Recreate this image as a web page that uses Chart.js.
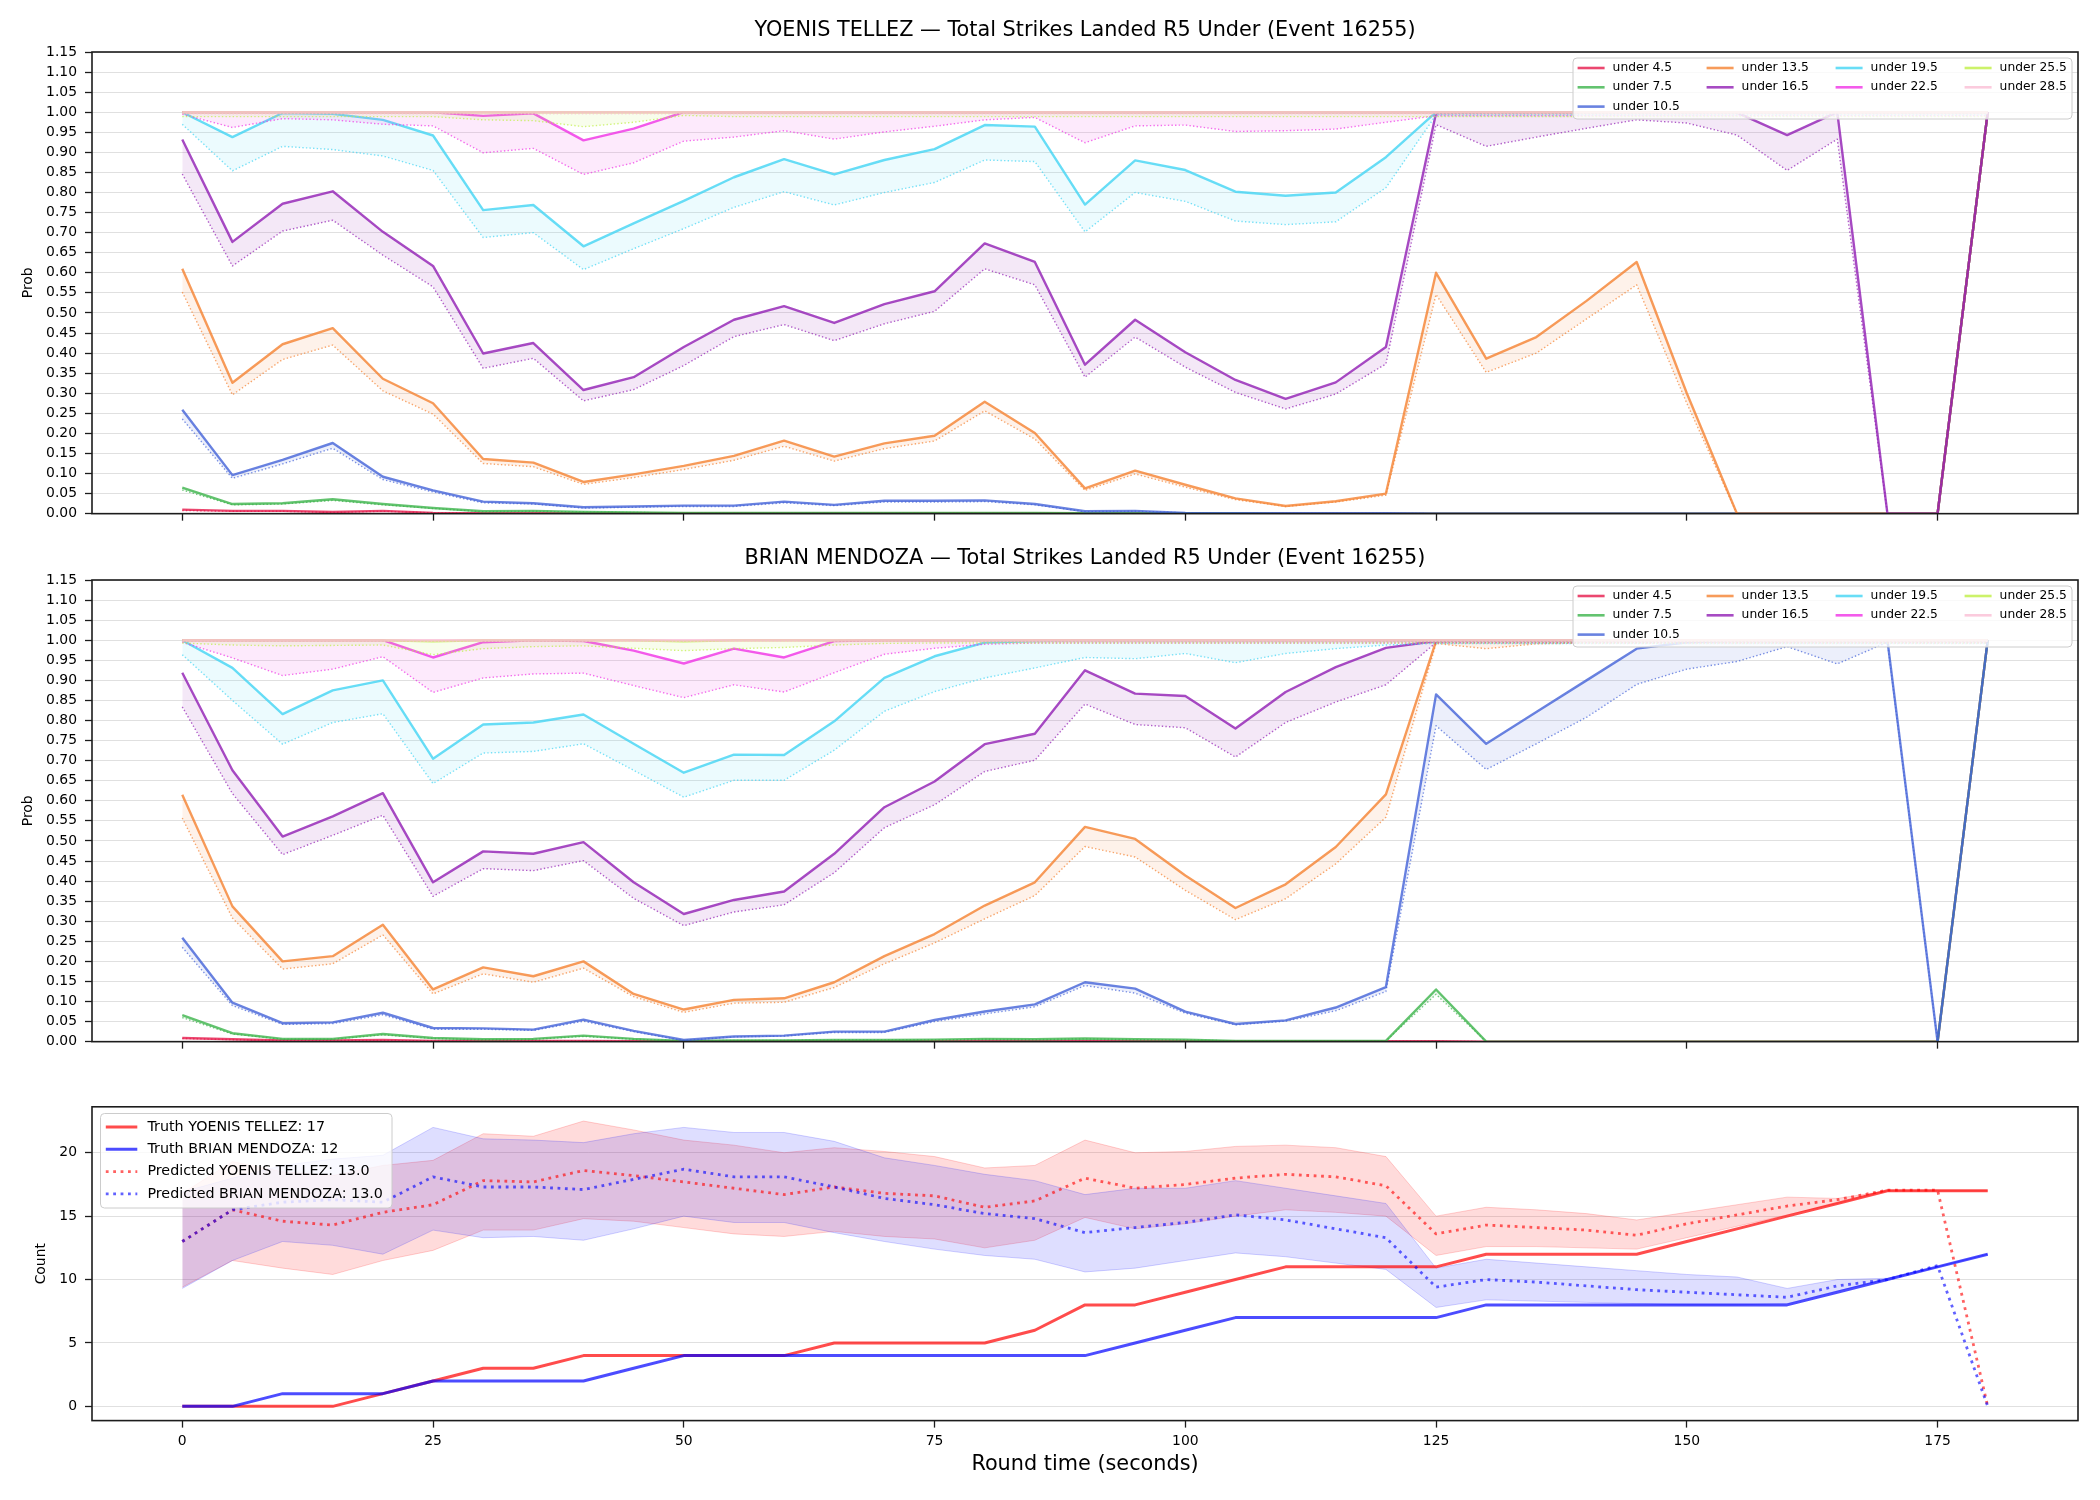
<!DOCTYPE html>
<html>
<head>
<meta charset="utf-8">
<script src="https://cdn.jsdelivr.net/npm/chart.js@4.4.0/dist/chart.umd.min.js"></script>
<style>
  html, body { margin: 0; padding: 0; background: #fff; }
  #wrap { position: relative; width: 2100px; height: 1500px; }
  canvas { position: absolute; left: 0; display: block; }
</style>
</head>
<body>
<div id="wrap">
  <canvas id="c1" width="2100" height="530" style="top:0"></canvas>
  <canvas id="c2" width="2100" height="530" style="top:528px"></canvas>
  <canvas id="c3" width="2100" height="442" style="top:1058px"></canvas>
</div>
<script>
const times = [0, 5, 10, 15, 20, 25, 30, 35, 40, 45, 50, 55, 60, 65, 70, 75, 80, 85, 90, 95,
  100, 105, 110, 115, 120, 125, 130, 135, 140, 145, 150, 155, 160, 165, 170, 175, 180];
const xTicks = [0, 25, 50, 75, 100, 125, 150, 175];
const probTicks = [0, 0.05, 0.1, 0.15, 0.2, 0.25, 0.3, 0.35, 0.4, 0.45, 0.5, 0.55, 0.6,
  0.65, 0.7, 0.75, 0.8, 0.85, 0.9, 0.95, 1.0, 1.05, 1.1, 1.15];
const countTicks = [0, 5, 10, 15, 20];

const lineNames = ["under 4.5", "under 7.5", "under 10.5", "under 13.5", "under 16.5",
  "under 19.5", "under 22.5", "under 25.5", "under 28.5"];
const lineColors = ["#e6194b", "#3cb44b", "#4363d8", "#f58231", "#911eb4",
  "#42d4f4", "#f032e6", "#bfef45", "#fabed4"];

// ---- YOENIS TELLEZ: solid = line, _lo = dotted lower edge ----
const t_u4_5 = [0.010, 0.007, 0.007, 0.004, 0.007, 0.002, 0.001, 0.001, 0.001, 0.001,
  0.001, 0.001, 0.001, 0.001, 0.001, 0.001, 0.001, 0.001, 0.001, 0.001,
  0, 0, 0, 0, 0, 0, 0, 0, 0, 0, 0, 0, 0, 0, 0, 0, 1];
const t_u4_5_lo = [0.008, 0.006, 0.006, 0.003, 0.006, 0.002, 0.001, 0.001, 0.001, 0.001,
  0.001, 0.001, 0.001, 0.001, 0.001, 0.001, 0.001, 0.001, 0, 0,
  0, 0, 0, 0, 0, 0, 0, 0, 0, 0, 0, 0, 0, 0, 0, 0, 1];
const t_u7_5 = [0.065, 0.024, 0.026, 0.036, 0.024, 0.014, 0.006, 0.007, 0.004, 0.003,
  0.002, 0.002, 0.002, 0.002, 0.002, 0.002, 0.002, 0.002, 0.001, 0.001,
  0.001, 0.001, 0, 0, 0, 0, 0, 0, 0, 0, 0, 0, 0, 0, 0, 0, 1];
const t_u7_5_lo = [0.059, 0.022, 0.024, 0.033, 0.022, 0.013, 0.005, 0.006, 0.004, 0.003,
  0.002, 0.002, 0.002, 0.002, 0.002, 0.002, 0.002, 0.002, 0.001, 0.001,
  0.001, 0.001, 0, 0, 0, 0, 0, 0, 0, 0, 0, 0, 0, 0, 0, 0, 1];
const t_u10_5 = [0.259, 0.096, 0.134, 0.176, 0.092, 0.058, 0.030, 0.026, 0.016, 0.018,
  0.020, 0.020, 0.030, 0.022, 0.032, 0.032, 0.033, 0.024, 0.006, 0.007,
  0.002, 0.001, 0.001, 0.001, 0.001, 0, 0, 0, 0, 0, 0, 0, 0, 0, 0, 0, 1];
const t_u10_5_lo = [0.236, 0.088, 0.124, 0.163, 0.085, 0.054, 0.027, 0.024, 0.014, 0.016,
  0.018, 0.018, 0.027, 0.020, 0.029, 0.029, 0.030, 0.022, 0.005, 0.006,
  0.002, 0.001, 0.001, 0.001, 0.001, 0, 0, 0, 0, 0, 0, 0, 0, 0, 0, 0, 1];
const t_u13_5 = [0.610, 0.326, 0.422, 0.462, 0.336, 0.275, 0.136, 0.127, 0.079, 0.098,
  0.119, 0.144, 0.182, 0.142, 0.175, 0.194, 0.279, 0.201, 0.063, 0.107,
  0.072, 0.038, 0.019, 0.031, 0.050, 0.600, 0.386, 0.440, 0.530, 0.627,
  0.300, 0, 0, 0, 0, 0, 1];
const t_u13_5_lo = [0.552, 0.296, 0.384, 0.420, 0.306, 0.248, 0.125, 0.117, 0.073, 0.090,
  0.110, 0.133, 0.168, 0.131, 0.162, 0.181, 0.256, 0.186, 0.058, 0.099,
  0.066, 0.035, 0.018, 0.029, 0.046, 0.546, 0.352, 0.400, 0.485, 0.570,
  0.275, 0, 0, 0, 0, 0, 1];
const t_u16_5 = [0.932, 0.677, 0.772, 0.803, 0.702, 0.617, 0.399, 0.425, 0.308, 0.340,
  0.415, 0.483, 0.517, 0.475, 0.522, 0.554, 0.673, 0.627, 0.371, 0.483,
  0.402, 0.333, 0.286, 0.327, 0.415, 0.998, 0.999, 1.0, 1.0, 1.0,
  1.0, 0.999, 0.943, 1.0, 0, 0, 1];
const t_u16_5_lo = [0.846, 0.617, 0.704, 0.731, 0.644, 0.565, 0.362, 0.387, 0.281, 0.309,
  0.369, 0.441, 0.471, 0.431, 0.473, 0.504, 0.610, 0.570, 0.340, 0.440,
  0.365, 0.302, 0.261, 0.298, 0.373, 0.969, 0.915, 0.938, 0.960, 0.981,
  0.973, 0.943, 0.855, 0.933, 0, 0, 1];
const t_u19_5 = [1.0, 0.938, 0.998, 0.996, 0.981, 0.942, 0.756, 0.769, 0.666, 0.723,
  0.779, 0.838, 0.883, 0.845, 0.881, 0.908, 0.968, 0.964, 0.770, 0.880,
  0.856, 0.802, 0.792, 0.800, 0.888, 1.0, 1.0, 1.0, 1.0, 1.0,
  1.0, 1.0, 1.0, 1.0, 1.0, 1.0, 1.0];
const t_u19_5_lo = [0.970, 0.854, 0.915, 0.907, 0.891, 0.855, 0.688, 0.700, 0.608, 0.660,
  0.710, 0.763, 0.802, 0.769, 0.800, 0.825, 0.881, 0.877, 0.702, 0.800,
  0.778, 0.729, 0.720, 0.727, 0.812, 0.993, 0.993, 0.993, 0.993, 0.993,
  0.993, 0.993, 0.993, 0.993, 0.993, 0.993, 0.993];
const t_u22_5 = [1.0, 1.0, 1.0, 1.0, 1.0, 1.0, 0.991, 0.997, 0.930, 0.959,
  1.0, 1.0, 1.0, 1.0, 1.0, 1.0, 1.0, 1.0, 1.0, 1.0,
  1.0, 1.0, 1.0, 1.0, 1.0, 1.0, 1.0, 1.0, 1.0, 1.0,
  1.0, 1.0, 1.0, 1.0, 1.0, 1.0, 1.0];
const t_u22_5_lo = [0.995, 0.962, 0.984, 0.981, 0.970, 0.966, 0.899, 0.910, 0.845, 0.874,
  0.928, 0.938, 0.954, 0.933, 0.951, 0.965, 0.981, 0.987, 0.924, 0.966,
  0.968, 0.952, 0.954, 0.958, 0.975, 0.991, 0.991, 0.991, 0.991, 0.991,
  0.991, 0.991, 0.991, 0.991, 0.991, 0.991, 0.991];
const t_u25_5 = [1.0, 1.0, 1.0, 1.0, 1.0, 1.0, 1.0, 1.0, 1.0, 1.0,
  1.0, 1.0, 1.0, 1.0, 1.0, 1.0, 1.0, 1.0, 1.0, 1.0,
  1.0, 1.0, 1.0, 1.0, 1.0, 1.0, 1.0, 1.0, 1.0, 1.0,
  1.0, 1.0, 1.0, 1.0, 1.0, 1.0, 1.0];
const t_u25_5_lo = [0.989, 0.989, 0.989, 0.989, 0.989, 0.989, 0.981, 0.979, 0.964, 0.975,
  0.992, 0.989, 0.989, 0.989, 0.989, 0.989, 0.989, 0.989, 0.989, 0.989,
  0.989, 0.989, 0.989, 0.989, 0.989, 0.989, 0.989, 0.989, 0.989, 0.989,
  0.989, 0.989, 0.989, 0.989, 0.989, 0.989, 0.989];
const t_u28_5 = [1.0, 1.0, 1.0, 1.0, 1.0, 1.0, 1.0, 1.0, 1.0, 1.0,
  1.0, 1.0, 1.0, 1.0, 1.0, 1.0, 1.0, 1.0, 1.0, 1.0,
  1.0, 1.0, 1.0, 1.0, 1.0, 1.0, 1.0, 1.0, 1.0, 1.0,
  1.0, 1.0, 1.0, 1.0, 1.0, 1.0, 1.0];
const t_u28_5_lo = [0.996, 0.996, 0.996, 0.996, 0.996, 0.996, 0.996, 0.996, 0.996, 0.996,
  0.996, 0.996, 0.996, 0.996, 0.996, 0.996, 0.996, 0.996, 0.996, 0.996,
  0.996, 0.996, 0.996, 0.996, 0.996, 0.996, 0.996, 0.996, 0.996, 0.996,
  0.996, 0.996, 0.996, 0.996, 0.996, 0.996, 0.996];

// ---- BRIAN MENDOZA ----
const m_u4_5 = [0.009, 0.006, 0.003, 0.003, 0.004, 0.002, 0.002, 0.002, 0.002, 0.001,
  0.001, 0.001, 0.001, 0.001, 0.001, 0.001, 0.001, 0.001, 0.001, 0.001,
  0.001, 0.001, 0.001, 0.001, 0.001, 0.001, 0, 0, 0, 0, 0, 0, 0, 0, 0, 0, 1];
const m_u4_5_lo = [0.008, 0.005, 0.003, 0.003, 0.003, 0.002, 0.002, 0.002, 0.002, 0.001,
  0.001, 0.001, 0.001, 0.001, 0.001, 0.001, 0.001, 0.001, 0.001, 0.001,
  0.001, 0.001, 0.001, 0.001, 0.001, 0.001, 0, 0, 0, 0, 0, 0, 0, 0, 0, 0, 1];
const m_u7_5 = [0.066, 0.021, 0.007, 0.007, 0.019, 0.009, 0.006, 0.007, 0.015, 0.007,
  0.002, 0.003, 0.003, 0.004, 0.004, 0.005, 0.007, 0.006, 0.008, 0.006,
  0.005, 0.002, 0.002, 0.002, 0.002, 0.130, 0, 0, 0, 0, 0, 0, 0, 0, 0, 0, 1];
const m_u7_5_lo = [0.060, 0.019, 0.006, 0.006, 0.017, 0.008, 0.005, 0.006, 0.013, 0.006,
  0.002, 0.003, 0.003, 0.004, 0.004, 0.004, 0.006, 0.005, 0.007, 0.005,
  0.004, 0.002, 0.002, 0.002, 0.002, 0.118, 0, 0, 0, 0, 0, 0, 0, 0, 0, 0, 1];
const m_u10_5 = [0.259, 0.097, 0.046, 0.048, 0.072, 0.034, 0.033, 0.030, 0.055, 0.027,
  0.004, 0.013, 0.015, 0.025, 0.025, 0.054, 0.075, 0.093, 0.148, 0.132,
  0.075, 0.044, 0.053, 0.085, 0.136, 0.865, 0.742, 0.821, 0.900, 0.979,
  0.995, 0.999, 1.0, 1.0, 1.0, 0, 1];
const m_u10_5_lo = [0.235, 0.090, 0.043, 0.045, 0.067, 0.031, 0.031, 0.028, 0.051, 0.025,
  0.003, 0.012, 0.014, 0.023, 0.023, 0.050, 0.069, 0.087, 0.140, 0.121,
  0.071, 0.042, 0.051, 0.077, 0.125, 0.787, 0.678, 0.742, 0.808, 0.890,
  0.928, 0.947, 0.984, 0.941, 0.995, 0, 1];
const m_u13_5 = [0.615, 0.337, 0.200, 0.213, 0.291, 0.130, 0.185, 0.163, 0.200, 0.119,
  0.080, 0.104, 0.108, 0.148, 0.213, 0.268, 0.339, 0.397, 0.535, 0.505,
  0.414, 0.333, 0.392, 0.485, 0.616, 0.998, 1.0, 1.0, 1.0, 1.0,
  1.0, 1.0, 1.0, 1.0, 1.0, 1.0, 1.0];
const m_u13_5_lo = [0.557, 0.308, 0.181, 0.194, 0.266, 0.119, 0.169, 0.148, 0.183, 0.112,
  0.073, 0.096, 0.098, 0.135, 0.194, 0.246, 0.306, 0.364, 0.486, 0.460,
  0.377, 0.304, 0.356, 0.443, 0.559, 0.992, 0.979, 0.991, 0.993, 0.993,
  0.993, 0.993, 0.993, 0.993, 0.993, 0.993, 0.993];
const m_u16_5 = [0.919, 0.676, 0.511, 0.561, 0.619, 0.397, 0.474, 0.468, 0.497, 0.397,
  0.318, 0.353, 0.374, 0.468, 0.584, 0.648, 0.741, 0.767, 0.925, 0.867,
  0.861, 0.780, 0.871, 0.933, 0.981, 0.998, 1.0, 1.0, 1.0, 1.0,
  1.0, 1.0, 1.0, 1.0, 1.0, 1.0, 1.0];
const m_u16_5_lo = [0.834, 0.618, 0.466, 0.514, 0.564, 0.362, 0.431, 0.426, 0.451, 0.357,
  0.289, 0.323, 0.341, 0.421, 0.533, 0.590, 0.673, 0.701, 0.841, 0.790,
  0.782, 0.709, 0.795, 0.846, 0.889, 0.994, 0.994, 0.994, 0.994, 0.994,
  0.994, 0.994, 0.994, 0.994, 0.994, 0.994, 0.994];
const m_u19_5 = [1.0, 0.931, 0.816, 0.875, 0.900, 0.705, 0.790, 0.795, 0.815, 0.742,
  0.670, 0.715, 0.714, 0.798, 0.906, 0.960, 0.994, 0.998, 1.0, 1.0,
  1.0, 1.0, 1.0, 1.0, 1.0, 1.0, 1.0, 1.0, 1.0, 1.0,
  1.0, 1.0, 1.0, 1.0, 1.0, 1.0, 1.0];
const m_u19_5_lo = [0.964, 0.850, 0.741, 0.795, 0.817, 0.643, 0.719, 0.723, 0.742, 0.676,
  0.609, 0.651, 0.651, 0.726, 0.823, 0.872, 0.906, 0.931, 0.957, 0.954,
  0.967, 0.944, 0.967, 0.979, 0.988, 0.992, 0.992, 0.992, 0.992, 0.992,
  0.992, 0.992, 0.992, 0.992, 0.992, 0.992, 0.992];
const m_u22_5 = [1.0, 1.0, 1.0, 1.0, 1.0, 0.957, 0.995, 1.0, 0.998, 0.974,
  0.942, 0.979, 0.957, 0.998, 1.0, 1.0, 1.0, 1.0, 1.0, 1.0,
  1.0, 1.0, 1.0, 1.0, 1.0, 1.0, 1.0, 1.0, 1.0, 1.0,
  1.0, 1.0, 1.0, 1.0, 1.0, 1.0, 1.0];
const m_u22_5_lo = [0.995, 0.956, 0.912, 0.928, 0.959, 0.870, 0.906, 0.916, 0.918, 0.887,
  0.857, 0.889, 0.871, 0.919, 0.965, 0.980, 0.990, 0.993, 0.993, 0.993,
  0.993, 0.993, 0.993, 0.993, 0.993, 0.993, 0.993, 0.993, 0.993, 0.993,
  0.993, 0.993, 0.993, 0.993, 0.993, 0.993, 0.993];
const m_u25_5 = [1.0, 1.0, 1.0, 1.0, 1.0, 0.997, 1.0, 1.0, 1.0, 1.0,
  0.997, 1.0, 1.0, 1.0, 1.0, 1.0, 1.0, 1.0, 1.0, 1.0,
  1.0, 1.0, 1.0, 1.0, 1.0, 1.0, 1.0, 1.0, 1.0, 1.0,
  1.0, 1.0, 1.0, 1.0, 1.0, 1.0, 1.0];
const m_u25_5_lo = [0.993, 0.988, 0.986, 0.987, 0.988, 0.964, 0.979, 0.984, 0.986, 0.980,
  0.974, 0.979, 0.982, 0.988, 0.992, 0.993, 0.993, 0.993, 0.993, 0.993,
  0.993, 0.993, 0.993, 0.993, 0.993, 0.993, 0.993, 0.993, 0.993, 0.993,
  0.993, 0.993, 0.993, 0.993, 0.993, 0.993, 0.993];
const m_u28_5 = [1.0, 1.0, 1.0, 1.0, 1.0, 1.0, 1.0, 1.0, 1.0, 1.0,
  1.0, 1.0, 1.0, 1.0, 1.0, 1.0, 1.0, 1.0, 1.0, 1.0,
  1.0, 1.0, 1.0, 1.0, 1.0, 1.0, 1.0, 1.0, 1.0, 1.0,
  1.0, 1.0, 1.0, 1.0, 1.0, 1.0, 1.0];
const m_u28_5_lo = [0.997, 0.997, 0.997, 0.997, 0.997, 0.997, 0.997, 0.997, 0.997, 0.997,
  0.997, 0.997, 0.997, 0.997, 0.997, 0.997, 0.997, 0.997, 0.997, 0.997,
  0.997, 0.997, 0.997, 0.997, 0.997, 0.997, 0.997, 0.997, 0.997, 0.997,
  0.997, 0.997, 0.997, 0.997, 0.997, 0.997, 0.997];

// ---- counts ----
const truthTellez = [0, 0, 0, 0, 1, 2, 3, 3, 4, 4, 4, 4, 4, 5, 5, 5, 5, 6, 8, 8,
  9, 10, 11, 11, 11, 11, 12, 12, 12, 12, 13, 14, 15, 16, 17, 17, 17];
const truthMendoza = [0, 0, 1, 1, 1, 2, 2, 2, 2, 3, 4, 4, 4, 4, 4, 4, 4, 4, 4, 5,
  6, 7, 7, 7, 7, 7, 8, 8, 8, 8, 8, 8, 8, 9, 10, 11, 12];
const predTellez = [13.0, 15.5, 14.6, 14.3, 15.3, 15.9, 17.8, 17.7, 18.6, 18.2,
  17.7, 17.2, 16.7, 17.3, 16.8, 16.6, 15.7, 16.2, 18.0, 17.2,
  17.5, 18.0, 18.3, 18.1, 17.4, 13.6, 14.3, 14.1, 13.9, 13.5,
  14.4, 15.1, 15.8, 16.3, 17.05, 17.05, 0];
const predMendoza = [13.0, 15.5, 16.1, 16.3, 16.1, 18.1, 17.3, 17.3, 17.1, 17.9,
  18.7, 18.1, 18.1, 17.3, 16.4, 15.9, 15.2, 14.8, 13.7, 14.1,
  14.5, 15.1, 14.7, 14.0, 13.3, 9.4, 10.0, 9.8, 9.5, 9.2,
  9.0, 8.8, 8.6, 9.5, 10.0, 11.1, 0];
const bandTellezHi = [16.8, 19.3, 18.5, 18.2, 19.0, 19.4, 21.5, 21.3, 22.5, 21.8,
  21.0, 20.6, 20.0, 20.4, 20.1, 19.7, 18.8, 19.0, 21.0, 20.0,
  20.1, 20.5, 20.6, 20.4, 19.7, 15.0, 15.7, 15.5, 15.2, 14.7,
  15.3, 15.9, 16.5, 16.4, 17.0, 17.0, 17.0];
const bandTellezLo = [9.4, 11.5, 10.9, 10.4, 11.5, 12.3, 13.9, 13.9, 14.8, 14.6,
  14.1, 13.6, 13.4, 13.8, 13.4, 13.2, 12.5, 13.1, 14.9, 14.0,
  14.4, 15.0, 15.5, 15.3, 15.0, 11.9, 12.6, 12.6, 12.5, 12.4,
  13.3, 14.2, 15.1, 16.0, 17.0, 17.0, 17.0];
const bandMendozaHi = [16.9, 18.0, 19.0, 19.5, 19.8, 22.0, 21.1, 21.0, 20.8, 21.5,
  22.0, 21.6, 21.6, 20.9, 19.6, 19.0, 18.3, 17.8, 16.7, 17.2,
  17.2, 17.8, 17.2, 16.6, 16.0, 10.9, 11.6, 11.3, 11.0, 10.7,
  10.4, 10.2, 9.3, 10.0, 10.1, 11.0, 12.0];
const bandMendozaLo = [9.3, 11.5, 13.0, 12.7, 12.0, 13.9, 13.3, 13.4, 13.1, 14.0,
  15.0, 14.5, 14.5, 13.7, 13.0, 12.4, 11.9, 11.6, 10.6, 10.9,
  11.5, 12.1, 11.8, 11.3, 10.8, 7.8, 8.4, 8.3, 8.2, 8.1,
  8.0, 8.0, 8.1, 9.1, 10.0, 11.0, 12.0];

const tellezSolid = [t_u4_5, t_u7_5, t_u10_5, t_u13_5, t_u16_5, t_u19_5, t_u22_5, t_u25_5, t_u28_5];
const tellezLow = [t_u4_5_lo, t_u7_5_lo, t_u10_5_lo, t_u13_5_lo, t_u16_5_lo, t_u19_5_lo, t_u22_5_lo, t_u25_5_lo, t_u28_5_lo];
const mendozaSolid = [m_u4_5, m_u7_5, m_u10_5, m_u13_5, m_u16_5, m_u19_5, m_u22_5, m_u25_5, m_u28_5];
const mendozaLow = [m_u4_5_lo, m_u7_5_lo, m_u10_5_lo, m_u13_5_lo, m_u16_5_lo, m_u19_5_lo, m_u22_5_lo, m_u25_5_lo, m_u28_5_lo];

const FONT = "'DejaVu Sans', sans-serif";
const INK = "#000000";
const SPINE = "#1c1c1c";

const pts = (arr) => times.map((t, i) => ({x: t, y: arr[i]}));
function rgba(hex, a) {
  const n = parseInt(hex.slice(1), 16);
  return `rgba(${(n >> 16) & 255},${(n >> 8) & 255},${n & 255},${a})`;
}

function drawLegend(ctx, a, L) {
  const x0 = L.anchor === "right" ? a.right - L.dx - L.w : a.left + L.dx;
  const y0 = a.top + L.dy;
  ctx.beginPath();
  ctx.roundRect(x0, y0, L.w, L.h, 4);
  ctx.fillStyle = "rgba(255,255,255,0.8)";
  ctx.fill();
  ctx.strokeStyle = "#cccccc";
  ctx.lineWidth = 1;
  ctx.stroke();
  // matplotlib fills columns top to bottom, extra rows go to the first columns
  const n = L.items.length, base = Math.floor(n / L.ncol), extra = n % L.ncol;
  let idx = 0;
  for (let c = 0; c < L.ncol; c++) {
    const rows = base + (c < extra ? 1 : 0);
    for (let r = 0; r < rows; r++, idx++) {
      const it = L.items[idx];
      const hx = x0 + L.padX + c * L.colW;
      const cy = y0 + L.padTop + r * L.rowH;
      ctx.beginPath();
      ctx.setLineDash(it.dash || []);
      ctx.strokeStyle = it.color;
      ctx.lineWidth = it.width;
      ctx.moveTo(hx, cy);
      ctx.lineTo(hx + L.handle, cy);
      ctx.stroke();
      ctx.setLineDash([]);
      ctx.fillStyle = INK;
      ctx.font = `${L.font}px ${FONT}`;
      ctx.textAlign = "left";
      ctx.textBaseline = "middle";
      ctx.fillText(it.label, hx + L.textOff, cy);
    }
  }
}

const decor = {
  id: "decor",
  afterDraw(chart, args, o) {
    const ctx = chart.ctx, a = chart.chartArea;
    ctx.save();
    ctx.strokeStyle = SPINE;
    ctx.lineWidth = 1.6;
    ctx.strokeRect(a.left, a.top, a.right - a.left, a.bottom - a.top);
    if (o.title) {
      ctx.fillStyle = INK;
      ctx.font = `20.8px ${FONT}`;
      ctx.textAlign = "center";
      ctx.textBaseline = "middle";
      ctx.fillText(o.title, (a.left + a.right) / 2, a.top - 21);
    }
    if (o.legend) drawLegend(ctx, a, o.legend);
    ctx.restore();
  }
};

const fixTicks = (vals) => (s) => { s.ticks = vals.map((v) => ({value: v})); };

function xAxis(withLabels, height) {
  return {
    type: "linear", min: -9, max: 189,
    afterBuildTicks: fixTicks(xTicks),
    afterFit: (s) => { s.height = height; },
    ticks: {display: withLabels, color: INK, padding: 5, maxRotation: 0,
      font: {family: FONT, size: 13.9}},
    grid: {drawOnChartArea: false, drawTicks: true, tickLength: 7, tickColor: SPINE, tickWidth: 1.3},
    border: {display: false},
    title: withLabels ? {display: true, text: "Round time (seconds)", color: INK,
      font: {family: FONT, size: 20.8}, padding: {top: 0, bottom: 22.5}} : {display: false}
  };
}

function yAxis(min, max, ticks, fmt, label, titlePad) {
  return {
    min: min, max: max,
    afterBuildTicks: fixTicks(ticks),
    afterFit: (s) => { s.width = 92; },
    ticks: {color: INK, padding: 8, font: {family: FONT, size: 13.9}, callback: fmt},
    grid: {color: "rgba(0,0,0,0.12)", lineWidth: 1, tickColor: SPINE, tickLength: 7, tickWidth: 1.3},
    border: {display: false},
    title: {display: true, text: label, color: INK, font: {family: FONT, size: 13.9},
      padding: {top: titlePad, bottom: 0}}
  };
}

function probChart(id, title, solid, low) {
  const datasets = [];
  lineNames.forEach((name, k) => {
    const c = lineColors[k];
    datasets.push({label: name + " lo", data: pts(low[k]), borderColor: rgba(c, 0.7),
      borderWidth: 1.4, borderDash: [1.4, 2.2], pointRadius: 0, fill: false});
    datasets.push({label: name, data: pts(solid[k]), borderColor: rgba(c, 0.8),
      borderWidth: 2.4, pointRadius: 0, fill: "-1", backgroundColor: rgba(c, 0.1)});
  });
  datasets.forEach((d, i) => { d.order = datasets.length - i; d.tension = 0; d.borderJoinStyle = "round"; });
  const items = lineNames.map((name, k) => ({label: name, color: rgba(lineColors[k], 0.8), width: 2.6}));
  new Chart(document.getElementById(id), {
    type: "line",
    data: {datasets},
    plugins: [decor],
    options: {
      responsive: false, animation: false, devicePixelRatio: 1, events: [],
      layout: {padding: {top: 52, right: 22, left: 0, bottom: 0}},
      scales: {
        x: xAxis(false, 12),
        y: yAxis(0, 1.15, probTicks, (v) => v.toFixed(2), "Prob", 19.7)
      },
      plugins: {
        legend: {display: false}, tooltip: {enabled: false},
        decor: {title, legend: {items, ncol: 4, anchor: "right", dx: 6, dy: 6, w: 499, h: 61,
          padX: 4.6, padTop: 10, rowH: 19.3, colW: 129, handle: 27, textOff: 35, font: 12.3}}
      }
    }
  });
}

probChart("c1", "YOENIS TELLEZ \u2014 Total Strikes Landed R5 Under (Event 16255)", tellezSolid, tellezLow);
probChart("c2", "BRIAN MENDOZA \u2014 Total Strikes Landed R5 Under (Event 16255)", mendozaSolid, mendozaLow);

(function countChart() {
  const RED = "#ff0000", BLUE = "#0000ff";
  const band = (arr, c) => ({data: pts(arr), borderColor: rgba(c, 0.18), borderWidth: 1, pointRadius: 0, fill: false});
  const datasets = [
    band(bandTellezLo, RED),
    Object.assign(band(bandTellezHi, RED), {fill: "-1", backgroundColor: rgba(RED, 0.14)}),
    band(bandMendozaLo, BLUE),
    Object.assign(band(bandMendozaHi, BLUE), {fill: "-1", backgroundColor: rgba(BLUE, 0.13)}),
    {data: pts(truthTellez), borderColor: rgba(RED, 0.7), borderWidth: 3, pointRadius: 0, fill: false},
    {data: pts(truthMendoza), borderColor: rgba(BLUE, 0.7), borderWidth: 3, pointRadius: 0, fill: false},
    {data: pts(predTellez), borderColor: rgba(RED, 0.62), borderWidth: 2.8, borderDash: [2.8, 4.6], pointRadius: 0, fill: false},
    {data: pts(predMendoza), borderColor: rgba(BLUE, 0.62), borderWidth: 2.8, borderDash: [2.8, 4.6], pointRadius: 0, fill: false}
  ];
  datasets.forEach((d, i) => { d.order = datasets.length - i; d.tension = 0; d.borderJoinStyle = "round"; });
  const items = [
    {label: "Truth YOENIS TELLEZ: 17", color: rgba(RED, 0.7), width: 3},
    {label: "Truth BRIAN MENDOZA: 12", color: rgba(BLUE, 0.7), width: 3},
    {label: "Predicted YOENIS TELLEZ: 13.0", color: rgba(RED, 0.62), width: 2.8, dash: [2.8, 4.6]},
    {label: "Predicted BRIAN MENDOZA: 13.0", color: rgba(BLUE, 0.62), width: 2.8, dash: [2.8, 4.6]}
  ];
  new Chart(document.getElementById("c3"), {
    type: "line",
    data: {datasets},
    plugins: [decor],
    options: {
      responsive: false, animation: false, devicePixelRatio: 1, events: [],
      layout: {padding: {top: 48.8, right: 22, left: 0, bottom: 0}},
      scales: {
        x: xAxis(true, 79.4),
        y: yAxis(-1.125, 23.625, countTicks, (v) => String(v), "Count", 32.7)
      },
      plugins: {
        legend: {display: false}, tooltip: {enabled: false},
        decor: {legend: {items, ncol: 1, anchor: "left", dx: 8.5, dy: 6.7, w: 291.5, h: 94.5,
          padX: 5.3, padTop: 13.5, rowH: 22.3, colW: 0, handle: 31.5, textOff: 41.6, font: 14.3}}
      }
    }
  });
})();
</script>
</body>
</html>
